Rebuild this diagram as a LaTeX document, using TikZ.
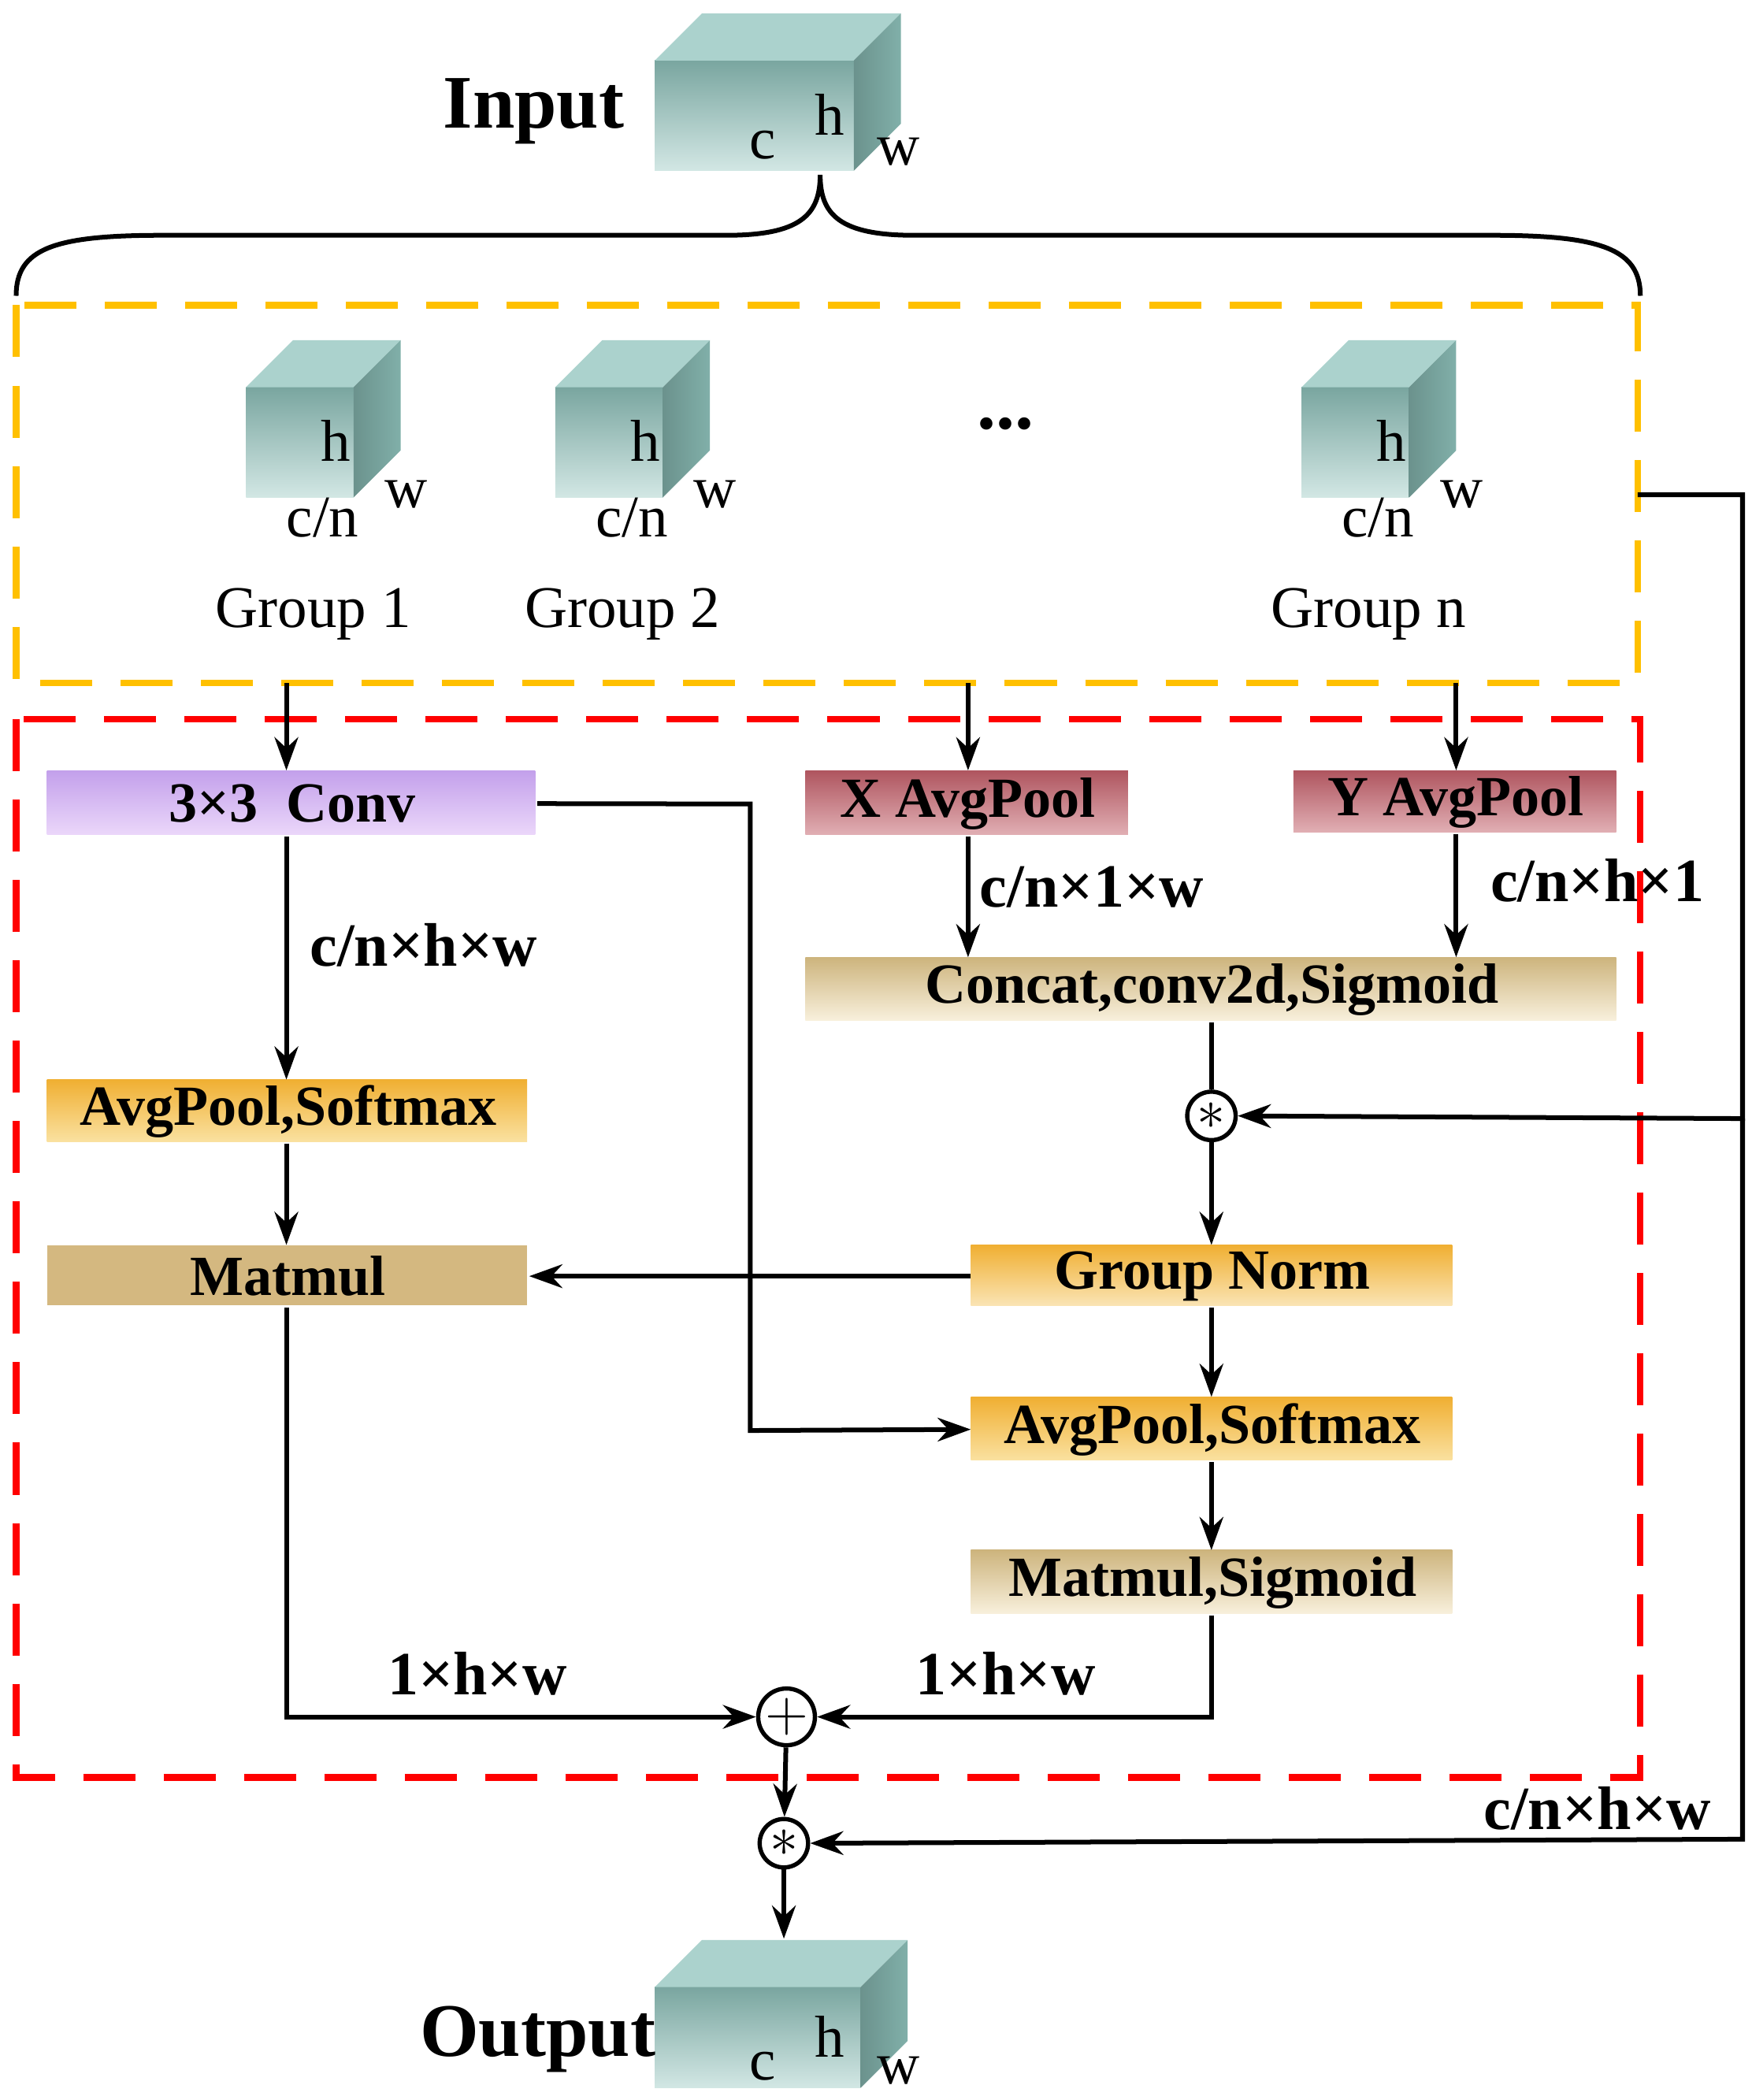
\documentclass[tikz,border=0pt]{standalone}
\usepackage{fontspec}
\setmainfont{Liberation Serif}
\usetikzlibrary{arrows.meta}
\definecolor{orng}{HTML}{FFC000}
\definecolor{teal1}{HTML}{8FC3BC}
\definecolor{purT}{RGB}{195,160,235}
\definecolor{purB}{RGB}{235,215,250}
\definecolor{redT}{RGB}{175,85,95}
\definecolor{redB}{RGB}{225,175,180}
\definecolor{tanT}{RGB}{205,180,125}
\definecolor{tanB}{RGB}{248,240,220}
\definecolor{oraT}{RGB}{240,175,50}
\definecolor{oraB}{RGB}{250,225,160}
\definecolor{gnB}{RGB}{250,228,180}
\definecolor{mmC}{RGB}{212,184,128}
\begin{document}
\begin{tikzpicture}[x=0.01cm,y=-0.01cm,
  font=\fontsize{12.5}{15}\selectfont,
  box/.style={draw=none,inner sep=0pt,anchor=north west,font=\fontsize{12}{14}\selectfont\bfseries},
  lbl/.style={font=\fontsize{13}{15}\selectfont\bfseries},
  arr/.style={-{Stealth[length=7pt,width=5pt]},line width=1pt},
  ln/.style={line width=1pt},
  op/.style={circle,draw,line width=0.9pt,minimum size=0.36cm,inner sep=0pt,fill=white},
  pics/cube/.style n args={3}{code={
    \shade[top color=#1!85!black,bottom color=#1!40!white] (0,0) rectangle (#2,#3);
    \fill[#1!75!white] (0,0) -- (35,-35) -- (#2+35,-35) -- (#2,0) -- cycle;
    \shade[left color=#1!75!black,right color=#1!90!black] (#2,0) -- (#2+35,-35) -- (#2+35,#3-35) -- (#2,#3) -- cycle;
  }}]
\useasboundingbox (0,0) rectangle (1303,1562);
% Input cube
\pic at (487,45) {cube={teal1}{148}{82}};
\node (ic) at (567,108) {c};
\node (ih) at (617,85) {h};
\node (iw) at (668,113) {w};
\node[font=\fontsize{16}{19}\selectfont\bfseries] (inp) at (397,83) {Input};
% brace
\coordinate (bl) at (12,220);
\coordinate (br) at (1220,220);
\coordinate (bt) at (610,130);
\draw[ln] (bl) .. controls (12,185) and (40,175) .. (120,175) -- (540,175) .. controls (595,175) and (610,160) .. (bt)
  .. controls (610,160) and (625,175) .. (680,175) -- (1110,175) .. controls (1190,175) and (1220,185) .. (br);
% dashed regions
\draw[orng,line width=1.4pt,dash pattern=on 11pt off 6pt] (12,227) rectangle (1218,508);
\coordinate (ogR) at (1218,368);
\draw[red,line width=1.4pt,dash pattern=on 11pt off 6pt] (12,535) rectangle (1220,1322);
% groups
\foreach \x/\g/\nm in {183/Group 1/g1,413/Group 2/g2,968/Group n/gn}{
  \pic at (\x,288) {cube={teal1}{80}{82}};
  \node at (\x+67,328) {h};
  \node at (\x+57,385) {c/n};
  \node at (\x+119,368) {w};
  \node (\nm) at (\x+50,457) {\g};
}
\node[font=\fontsize{16}{19}\selectfont\bfseries] (dots) at (748,315) {...};
% boxes
\shade[top color=purT,bottom color=purB] (35,573) rectangle (398,621);
\node[box,minimum width=3.63cm,minimum height=0.48cm] (conv) at (35,573) {3×3\ \ Conv};
\shade[top color=redT,bottom color=redB] (599,573) rectangle (839,621);
\node[box,minimum width=2.4cm,minimum height=0.48cm] (xp) at (599,573) {X AvgPool};
\shade[top color=redT,bottom color=redB] (962,573) rectangle (1202,619);
\node[box,minimum width=2.4cm,minimum height=0.46cm] (yp) at (962,573) {Y AvgPool};
\shade[top color=tanT,bottom color=tanB] (599,712) rectangle (1202,759);
\node[box,minimum width=6.03cm,minimum height=0.47cm] (cat) at (599,712) {Concat,conv2d,Sigmoid};
\shade[top color=oraT,bottom color=oraB] (35,803) rectangle (392,849);
\node[box,minimum width=3.57cm,minimum height=0.46cm] (aps1) at (35,803) {AvgPool,Softmax};
\fill[mmC] (35,926) rectangle (392,971);
\node[box,minimum width=3.57cm,minimum height=0.45cm] (mm) at (35,926) {Matmul};
\shade[top color=oraT,bottom color=gnB] (722,926) rectangle (1080,971);
\node[box,minimum width=3.58cm,minimum height=0.45cm] (gn) at (722,926) {Group Norm};
\shade[top color=oraT,bottom color=oraB] (722,1039) rectangle (1080,1086);
\node[box,minimum width=3.58cm,minimum height=0.47cm] (aps2) at (722,1039) {AvgPool,Softmax};
\shade[top color=tanT,bottom color=tanB] (722,1153) rectangle (1080,1200);
\node[box,minimum width=3.58cm,minimum height=0.47cm] (mms) at (722,1153) {Matmul,Sigmoid};
% ops
\node[op] (s1) at (901,830) {$*$};
\node[op] (pl) at (585,1277) {$+$};
\node[op] (s2) at (583,1371) {$*$};
% output cube
\pic at (487,1478) {cube={teal1}{153}{75}};
\node (oc) at (567,1537) {c};
\node (oh) at (617,1515) {h};
\node (ow) at (668,1540) {w};
\node[font=\fontsize{16}{19}\selectfont\bfseries] (outp) at (400,1517) {Output};
\coordinate (otop) at (583,1442);
% labels
\node[lbl] (l1) at (315,703) {c/n×h×w};
\node[lbl] (l2) at (812,660) {c/n×1×w};
\node[lbl] (l3) at (1188,655) {c/n×h×1};
\node[lbl] (l4) at (1188,1345) {c/n×h×w};
\node[lbl] (l5) at (355,1245) {1×h×w};
\node[lbl] (l6) at (748,1245) {1×h×w};
% arrows
\coordinate (o1) at (213,508); \coordinate (o2) at (720,508); \coordinate (o3) at (1083,508);
\draw[arr] (o1) -- (conv.north -| o1);
\draw[arr] (o2) -- (xp.north -| o2);
\draw[arr] (o3) -- (yp.north -| o3);
\draw[arr] (conv.south -| o1) -- (aps1.north -| o1);
\draw[arr] (xp.south -| o2) -- (cat.north -| o2);
\draw[arr] (yp.south -| o3) -- (cat.north -| o3);
\draw[ln] (cat.south -| s1) -- (s1);
\draw[arr] (s1) -- (gn.north -| s1);
\draw[arr] (aps1.south -| o1) -- (mm.north -| o1);
\draw[arr] (gn.west) -- (mm.east);
\draw[arr] (gn.south -| s1) -- (aps2.north -| s1);
\draw[arr] (aps2.south -| s1) -- (mms.north -| s1);
\draw[arr] (conv.east) -- (558,598) -- (558,1064) -- (aps2.west);
\draw[arr] (ogR) -- (1296,368) -- (1296,832) -- (s1.east);
\draw[arr] (1296,832) -- (1296,1368) -- (s2.east);
\draw[arr] (mm.south -| o1) -- (213,1277) -- (pl.west);
\draw[arr] (mms.south -| s1) -- (901,1277) -- (pl.east);
\draw[arr] (pl) -- (s2);
\draw[arr] (s2) -- (otop);
\end{tikzpicture}
\end{document}
